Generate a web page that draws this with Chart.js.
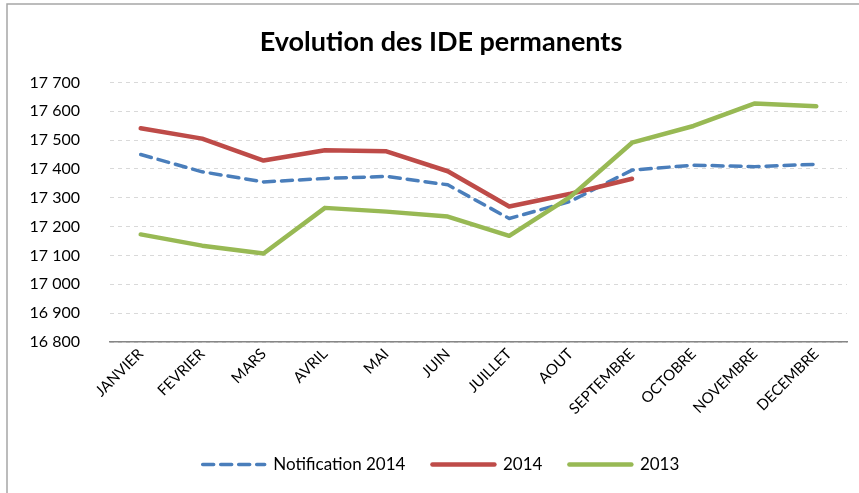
<!DOCTYPE html>
<html>
<head>
<meta charset="utf-8">
<script src="https://cdn.jsdelivr.net/npm/chart.js@4/dist/chart.umd.min.js"></script>
<style>
html,body{margin:0;padding:0;background:#fff;}
canvas{display:block;}
</style>
</head>
<body>
<canvas id="c" width="859" height="493"></canvas>
<script>
const categories = ["JANVIER","FEVRIER","MARS","AVRIL","MAI","JUIN","JUILLET","AOUT","SEPTEMBRE","OCTOBRE","NOVEMBRE","DECEMBRE"];
const notification2014 = [17450, 17390, 17355, 17367, 17374, 17345, 17228, 17288, 17396, 17413, 17408, 17416];
const values2014 = [17541, 17505, 17429, 17465, 17461, 17392, 17270, 17314, 17366, null, null, null];
const values2013 = [17173, 17134, 17107, 17265, 17252, 17235, 17168, 17304, 17491, 17549, 17627, 17617];
const yTicks = [16800, 16900, 17000, 17100, 17200, 17300, 17400, 17500, 17600, 17700];
const title = "Evolution des IDE permanents";

const FONT = "Lato, 'Open Sans', 'DejaVu Sans', sans-serif";

const borderPlugin = {
  id: 'frame',
  afterLayout(chart) {
    chart.scales.y.left = 0;
  },
  beforeDraw(chart) {
    const ctx = chart.ctx;
    ctx.save();
    ctx.fillStyle = '#fff';
    ctx.fillRect(0, 0, chart.width, chart.height);
    ctx.strokeStyle = '#a6a6a6';
    ctx.lineWidth = 1.5;
    ctx.beginPath();
    ctx.moveTo(7, chart.height);
    ctx.lineTo(7, 4);
    ctx.lineTo(chart.width, 4);
    ctx.stroke();
    ctx.restore();
  }
};

new Chart(document.getElementById('c'), {
  type: 'line',
  data: {
    labels: categories,
    datasets: [
      { label: 'Notification 2014', data: notification2014, borderColor: '#4a7ebb', backgroundColor: '#4a7ebb',
        borderWidth: 3.5, borderDash: [11, 7], order: 3 },
      { label: '2014', data: values2014, borderColor: '#be4b48', backgroundColor: '#be4b48',
        borderWidth: 4.5, order: 2 },
      { label: '2013', data: values2013, borderColor: '#98b954', backgroundColor: '#98b954',
        borderWidth: 4.5, order: 1 }
    ]
  },
  options: {
    responsive: false,
    animation: false,
    devicePixelRatio: 1,
    elements: { point: { radius: 0, hoverRadius: 0 }, line: { tension: 0, borderCapStyle: 'round', borderJoinStyle: 'round' } },
    layout: { padding: { left: 35, right: 12, top: 0, bottom: 10 } },
    plugins: {
      title: {
        display: true, text: title, color: '#000',
        font: { family: FONT, size: 27, weight: 'bold' },
        padding: { top: 26, bottom: 24 }
      },
      legend: {
        position: 'bottom',
        labels: {
          usePointStyle: true, pointStyle: 'line', pointStyleWidth: 62,
          color: '#000', font: { family: FONT, size: 17 }, padding: 27,
          sort: (a, b) => a.datasetIndex - b.datasetIndex,
          generateLabels(chart) {
            const items = Chart.defaults.plugins.legend.labels.generateLabels(chart);
            items.forEach(it => {
              const ds = chart.data.datasets[it.datasetIndex];
              it.lineDash = ds.borderDash || [];
              it.lineWidth = ds.borderWidth;
              it.strokeStyle = ds.borderColor;
              it.lineCap = 'round';
            });
            return items;
          }
        }
      },
      tooltip: { enabled: false }
    },
    scales: {
      x: {
        offset: true,
        grid: { display: false, drawTicks: false },
        border: { display: true, color: '#868686', width: 1.5 },
        ticks: { color: '#000', font: { family: FONT, size: 15 }, maxRotation: 45, minRotation: 45, padding: 3, autoSkip: false },
        afterFit(scale) { scale.height = 87; }
      },
      y: {
        min: 16800, max: 17700,
        afterBuildTicks(scale) { scale.ticks = yTicks.map(v => ({ value: v })); },
        grid: { color: '#d9d9d9', lineWidth: 1, drawTicks: false },
        border: { display: false, dash: [4, 4] },
        ticks: {
          color: '#000', font: { family: FONT, size: 16 }, padding: 30,
          callback: v => String(v).replace(/\B(?=(\d{3})+(?!\d))/g, '\u00a0')
        },
        afterFit(scale) { scale.width = 75; }
      }
    }
  },
  plugins: [borderPlugin]
});
</script>
</body>
</html>
